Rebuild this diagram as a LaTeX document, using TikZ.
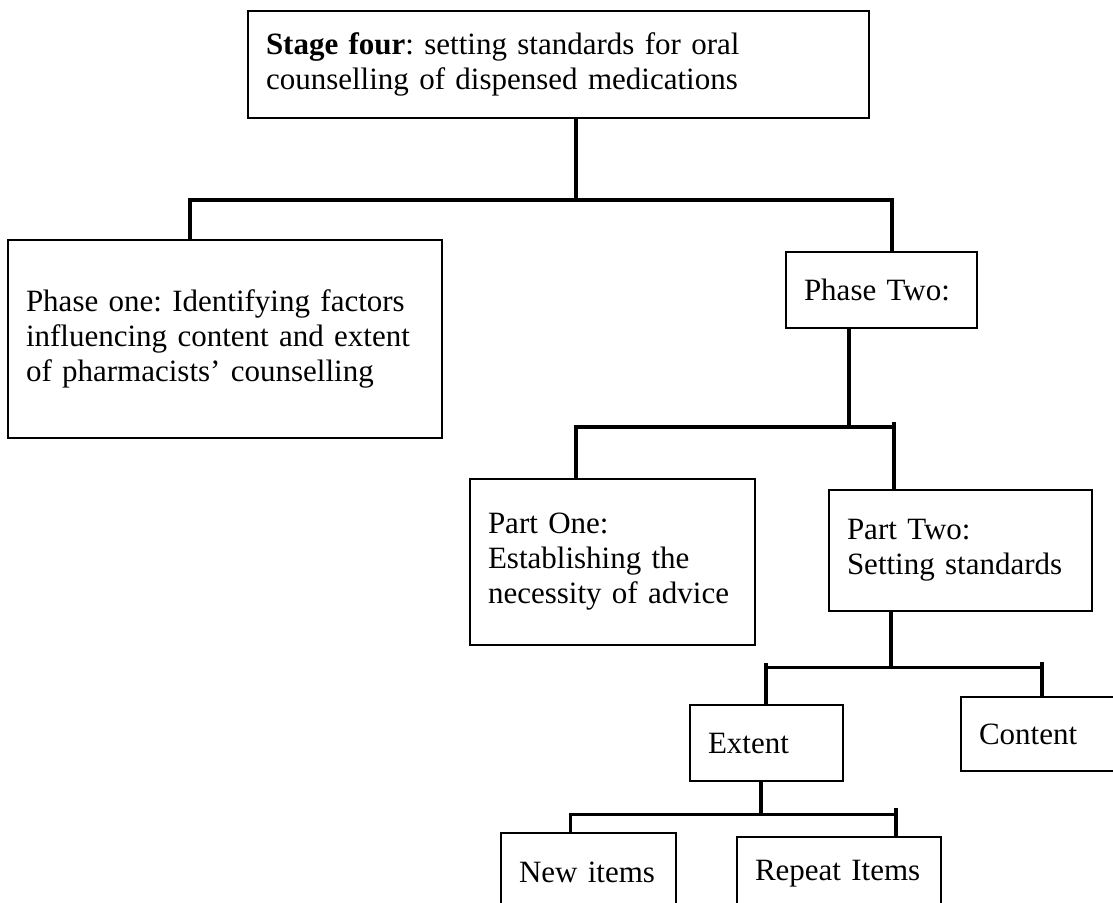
\documentclass[tikz,border=0pt]{standalone}
\usepackage{fontspec}
\setmainfont{Liberation Serif}
\usetikzlibrary{positioning}
\frenchspacing

\tikzset{
    box/.style={draw, rectangle, line width=1.5pt, align=left, inner xsep=18pt, inner ysep=0pt,
        font=\fontsize{31}{35}\selectfont},
    bar/.style={line width=4.5pt},
    thinbar/.style={line width=3pt},
    stem/.style={line width=3.5pt},
}

\begin{document}
\begin{tikzpicture}[x=1pt, y=-1pt]
        \useasboundingbox (0, 0) rectangle (1113, 902);
        \clip (0, 0) rectangle (1113, 902);

        \node[box, minimum width=621, minimum height=107, text width=585] (stage) at (558.5, 64.5)
            {\textbf{Stage four}: setting standards for oral\\counselling of dispensed medications};
        \node[box, minimum width=434, minimum height=198, text width=398] (ph1) at (225, 339)
            {Phase one: Identifying factors\\influencing content and extent\\of pharmacists' counselling};
        \node[box, minimum width=191, minimum height=76, text width=155] (ph2) at (881.5, 290) {Phase Two:};
        \node[box, minimum width=285, minimum height=166, text width=249] (pt1) at (612.5, 562)
            {Part One:\\Establishing the\\necessity of advice};
        \node[box, minimum width=263, minimum height=121, text width=227] (pt2) at (960.5, 550.5)
            {Part Two:\\Setting standards};
        \node[box, minimum width=153, minimum height=76, text width=117] (ext) at (766.5, 743) {Extent};
        \node[box, minimum width=164, minimum height=74, text width=128] (cont) at (1043, 734) {Content};
        \node[box, minimum width=175, minimum height=78, text width=139] (new) at (588.5, 872) {New items};
        \node[box, minimum width=204, minimum height=74, text width=168] (rep) at (839, 874) {Repeat Items};

        \coordinate (j1) at (576, 200);
        \coordinate (j1l) at (190, 200);
        \coordinate (j1r) at (892, 200);
        \coordinate (j2) at (849, 427);
        \coordinate (j2l) at (576, 427);
        \coordinate (j2r) at (894, 427);
        \coordinate (j3) at (891, 667);
        \coordinate (j3l) at (766, 667);
        \coordinate (j3r) at (1042, 667);
        \coordinate (j4) at (761, 814);
        \coordinate (j4l) at (570, 814);
        \coordinate (j4r) at (896, 814);

        \draw[stem] (stage.south -| j1) -- (j1);
        \draw[bar] (j1l) -- (j1r);
        \draw[stem] ([yshift=2pt]j1l) -- (j1l |- ph1.north);
        \draw[stem] ([yshift=2pt]j1r) -- (j1r |- ph2.north);

        \draw[stem] (ph2.south -| j2) -- (j2);
        \draw[bar] (j2l) -- (j2r);
        \draw[stem] ([yshift=2pt]j2l) -- (j2l |- pt1.north);
        \draw[stem] ([yshift=5pt]j2r) -- (j2r |- pt2.north);

        \draw[stem] (pt2.south -| j3) -- (j3);
        \draw[thinbar] (j3l) -- (j3r);
        \draw[stem] ([yshift=4pt]j3l) -- (j3l |- ext.north);
        \draw[stem] ([yshift=5pt]j3r) -- (j3r |- cont.north);

        \draw[stem] (ext.south -| j4) -- (j4);
        \draw[thinbar] (j4l) -- (j4r);
        \draw[thinbar] ([yshift=1.5pt]j4l) -- (j4l |- new.north);
        \draw[stem] ([yshift=6pt]j4r) -- (j4r |- rep.north);
\end{tikzpicture}
\end{document}
